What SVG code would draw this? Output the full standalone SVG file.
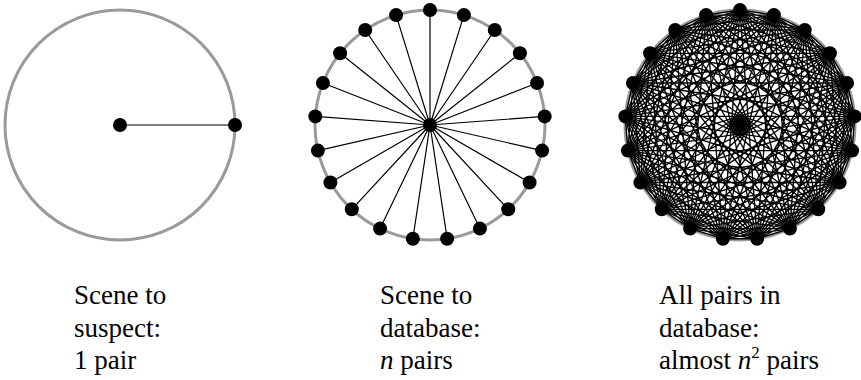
<svg xmlns="http://www.w3.org/2000/svg" width="861" height="380" viewBox="0 0 861 380">
<style>
.ring{fill:none;stroke:#9a9a9a;stroke-width:3}
.edge{fill:none;stroke:#000;stroke-width:1.2;stroke-linejoin:round}
.kedge{fill:none;stroke:#000;stroke-width:1.35;stroke-linejoin:round}
.dot{fill:#000}
text{font-family:"Nimbus Roman","Times New Roman",Times,Tinos,"Liberation Serif","Noto Serif","DejaVu Serif",serif;font-size:27px;fill:#000}
</style>
<rect width="861" height="380" fill="#fff"/>
<circle class="ring" cx="120" cy="125" r="115"/>
<circle class="ring" cx="430" cy="125" r="115"/>
<circle class="ring" cx="740" cy="125" r="115"/>
<g id="connectors">
<line class="edge" x1="120" y1="125" x2="235" y2="125"/>
<path class="edge" transform="translate(430,125)" d="M0 0L0 -115M0 0L33.9 -109.89M0 0L64.78 -95.02M0 0L89.91 -71.7M0 0L107.05 -42.01M0 0L114.68 -8.59M0 0L112.12 25.59M0 0L99.59 57.5M0 0L78.22 84.3M0 0L49.9 103.61M0 0L17.14 113.72M0 0L-17.14 113.72M0 0L-49.9 103.61M0 0L-78.22 84.3M0 0L-99.59 57.5M0 0L-112.12 25.59M0 0L-114.68 -8.59M0 0L-107.05 -42.01M0 0L-89.91 -71.7M0 0L-64.78 -95.02M0 0L-33.9 -109.89"/>
<g transform="translate(740,125)">
<path class="kedge" d="M0 -115L33.9 -109.89L64.78 -95.02L89.91 -71.7L107.05 -42.01L114.68 -8.59L112.12 25.59L99.59 57.5L78.22 84.3L49.9 103.61L17.14 113.72L-17.14 113.72L-49.9 103.61L-78.22 84.3L-99.59 57.5L-112.12 25.59L-114.68 -8.59L-107.05 -42.01L-89.91 -71.7L-64.78 -95.02L-33.9 -109.89Z"/>
<path class="kedge" d="M0 -115L64.78 -95.02L107.05 -42.01L112.12 25.59L78.22 84.3L17.14 113.72L-49.9 103.61L-99.59 57.5L-114.68 -8.59L-89.91 -71.7L-33.9 -109.89L33.9 -109.89L89.91 -71.7L114.68 -8.59L99.59 57.5L49.9 103.61L-17.14 113.72L-78.22 84.3L-112.12 25.59L-107.05 -42.01L-64.78 -95.02Z"/>
<path class="kedge" d="M0 -115L107.05 -42.01L78.22 84.3L-49.9 103.61L-114.68 -8.59L-33.9 -109.89L89.91 -71.7L99.59 57.5L-17.14 113.72L-112.12 25.59L-64.78 -95.02L64.78 -95.02L112.12 25.59L17.14 113.72L-99.59 57.5L-89.91 -71.7L33.9 -109.89L114.68 -8.59L49.9 103.61L-78.22 84.3L-107.05 -42.01Z"/>
<path class="kedge" d="M0 -115L114.68 -8.59L17.14 113.72L-112.12 25.59L-33.9 -109.89L107.05 -42.01L49.9 103.61L-99.59 57.5L-64.78 -95.02L89.91 -71.7L78.22 84.3L-78.22 84.3L-89.91 -71.7L64.78 -95.02L99.59 57.5L-49.9 103.61L-107.05 -42.01L33.9 -109.89L112.12 25.59L-17.14 113.72L-114.68 -8.59Z"/>
<path class="kedge" d="M0 -115L78.22 84.3L-114.68 -8.59L89.91 -71.7L-17.14 113.72L-64.78 -95.02L112.12 25.59L-99.59 57.5L33.9 -109.89L49.9 103.61L-107.05 -42.01L107.05 -42.01L-49.9 103.61L-33.9 -109.89L99.59 57.5L-112.12 25.59L64.78 -95.02L17.14 113.72L-89.91 -71.7L114.68 -8.59L-78.22 84.3Z"/>
<path class="kedge" d="M0 -115L17.14 113.72L-33.9 -109.89L49.9 103.61L-64.78 -95.02L78.22 84.3L-89.91 -71.7L99.59 57.5L-107.05 -42.01L112.12 25.59L-114.68 -8.59L114.68 -8.59L-112.12 25.59L107.05 -42.01L-99.59 57.5L89.91 -71.7L-78.22 84.3L64.78 -95.02L-49.9 103.61L33.9 -109.89L-17.14 113.72Z"/>
<path class="kedge" d="M0 -115L89.91 -71.7L112.12 25.59L49.9 103.61L-49.9 103.61L-112.12 25.59L-89.91 -71.7ZM33.9 -109.89L107.05 -42.01L99.59 57.5L17.14 113.72L-78.22 84.3L-114.68 -8.59L-64.78 -95.02ZM64.78 -95.02L114.68 -8.59L78.22 84.3L-17.14 113.72L-99.59 57.5L-107.05 -42.01L-33.9 -109.89Z"/>
<path class="kedge" d="M0 -115L112.12 25.59L-49.9 103.61L-89.91 -71.7L89.91 -71.7L49.9 103.61L-112.12 25.59ZM33.9 -109.89L99.59 57.5L-78.22 84.3L-64.78 -95.02L107.05 -42.01L17.14 113.72L-114.68 -8.59ZM64.78 -95.02L78.22 84.3L-99.59 57.5L-33.9 -109.89L114.68 -8.59L-17.14 113.72L-107.05 -42.01Z"/>
<path class="kedge" d="M0 -115L49.9 103.61L-89.91 -71.7L112.12 25.59L-112.12 25.59L89.91 -71.7L-49.9 103.61ZM33.9 -109.89L17.14 113.72L-64.78 -95.02L99.59 57.5L-114.68 -8.59L107.05 -42.01L-78.22 84.3ZM64.78 -95.02L-17.14 113.72L-33.9 -109.89L78.22 84.3L-107.05 -42.01L114.68 -8.59L-99.59 57.5Z"/>
<path class="kedge" d="M0 -115L99.59 57.5L-99.59 57.5ZM33.9 -109.89L78.22 84.3L-112.12 25.59ZM64.78 -95.02L49.9 103.61L-114.68 -8.59ZM89.91 -71.7L17.14 113.72L-107.05 -42.01ZM107.05 -42.01L-17.14 113.72L-89.91 -71.7ZM114.68 -8.59L-49.9 103.61L-64.78 -95.02ZM112.12 25.59L-78.22 84.3L-33.9 -109.89Z"/>
</g>
</g>
<g id="scene-suspect">
<circle id="n-scene1" class="dot" cx="120" cy="125" r="7"/>
<circle id="n-suspect" class="dot" cx="235" cy="125" r="7"/>
</g>
<g id="scene-database" transform="translate(430,125)">
<circle id="n-scene2" class="dot" cx="0" cy="0" r="7"/>
<circle id="m0" class="dot" cx="0" cy="-115" r="7"/>
<circle id="m1" class="dot" cx="33.9" cy="-109.89" r="7"/>
<circle id="m2" class="dot" cx="64.78" cy="-95.02" r="7"/>
<circle id="m3" class="dot" cx="89.91" cy="-71.7" r="7"/>
<circle id="m4" class="dot" cx="107.05" cy="-42.01" r="7"/>
<circle id="m5" class="dot" cx="114.68" cy="-8.59" r="7"/>
<circle id="m6" class="dot" cx="112.12" cy="25.59" r="7"/>
<circle id="m7" class="dot" cx="99.59" cy="57.5" r="7"/>
<circle id="m8" class="dot" cx="78.22" cy="84.3" r="7"/>
<circle id="m9" class="dot" cx="49.9" cy="103.61" r="7"/>
<circle id="m10" class="dot" cx="17.14" cy="113.72" r="7"/>
<circle id="m11" class="dot" cx="-17.14" cy="113.72" r="7"/>
<circle id="m12" class="dot" cx="-49.9" cy="103.61" r="7"/>
<circle id="m13" class="dot" cx="-78.22" cy="84.3" r="7"/>
<circle id="m14" class="dot" cx="-99.59" cy="57.5" r="7"/>
<circle id="m15" class="dot" cx="-112.12" cy="25.59" r="7"/>
<circle id="m16" class="dot" cx="-114.68" cy="-8.59" r="7"/>
<circle id="m17" class="dot" cx="-107.05" cy="-42.01" r="7"/>
<circle id="m18" class="dot" cx="-89.91" cy="-71.7" r="7"/>
<circle id="m19" class="dot" cx="-64.78" cy="-95.02" r="7"/>
<circle id="m20" class="dot" cx="-33.9" cy="-109.89" r="7"/>
</g>
<g id="all-pairs" transform="translate(740,125)">
<circle id="r-center" class="dot" cx="0" cy="0" r="8.2"/>
<circle id="r0" class="dot" cx="0" cy="-115" r="7"/>
<circle id="r1" class="dot" cx="33.9" cy="-109.89" r="7"/>
<circle id="r2" class="dot" cx="64.78" cy="-95.02" r="7"/>
<circle id="r3" class="dot" cx="89.91" cy="-71.7" r="7"/>
<circle id="r4" class="dot" cx="107.05" cy="-42.01" r="7"/>
<circle id="r5" class="dot" cx="114.68" cy="-8.59" r="7"/>
<circle id="r6" class="dot" cx="112.12" cy="25.59" r="7"/>
<circle id="r7" class="dot" cx="99.59" cy="57.5" r="7"/>
<circle id="r8" class="dot" cx="78.22" cy="84.3" r="7"/>
<circle id="r9" class="dot" cx="49.9" cy="103.61" r="7"/>
<circle id="r10" class="dot" cx="17.14" cy="113.72" r="7"/>
<circle id="r11" class="dot" cx="-17.14" cy="113.72" r="7"/>
<circle id="r12" class="dot" cx="-49.9" cy="103.61" r="7"/>
<circle id="r13" class="dot" cx="-78.22" cy="84.3" r="7"/>
<circle id="r14" class="dot" cx="-99.59" cy="57.5" r="7"/>
<circle id="r15" class="dot" cx="-112.12" cy="25.59" r="7"/>
<circle id="r16" class="dot" cx="-114.68" cy="-8.59" r="7"/>
<circle id="r17" class="dot" cx="-107.05" cy="-42.01" r="7"/>
<circle id="r18" class="dot" cx="-89.91" cy="-71.7" r="7"/>
<circle id="r19" class="dot" cx="-64.78" cy="-95.02" r="7"/>
<circle id="r20" class="dot" cx="-33.9" cy="-109.89" r="7"/>
</g>
<g id="labels">
<text x="74" y="304">Scene to</text>
<text x="74" y="337">suspect:</text>
<text x="74" y="369">1 pair</text>
<text x="380" y="304">Scene to</text>
<text x="380" y="337">database:</text>
<text x="380" y="369"><tspan font-style="italic">n</tspan> pairs</text>
<text x="659" y="304">All pairs in</text>
<text x="659" y="337">database:</text>
<text x="659" y="369">almost <tspan font-style="italic">n</tspan><tspan font-size="17" dy="-11">2</tspan><tspan dy="11"> pairs</tspan></text>
</g>
</svg>
